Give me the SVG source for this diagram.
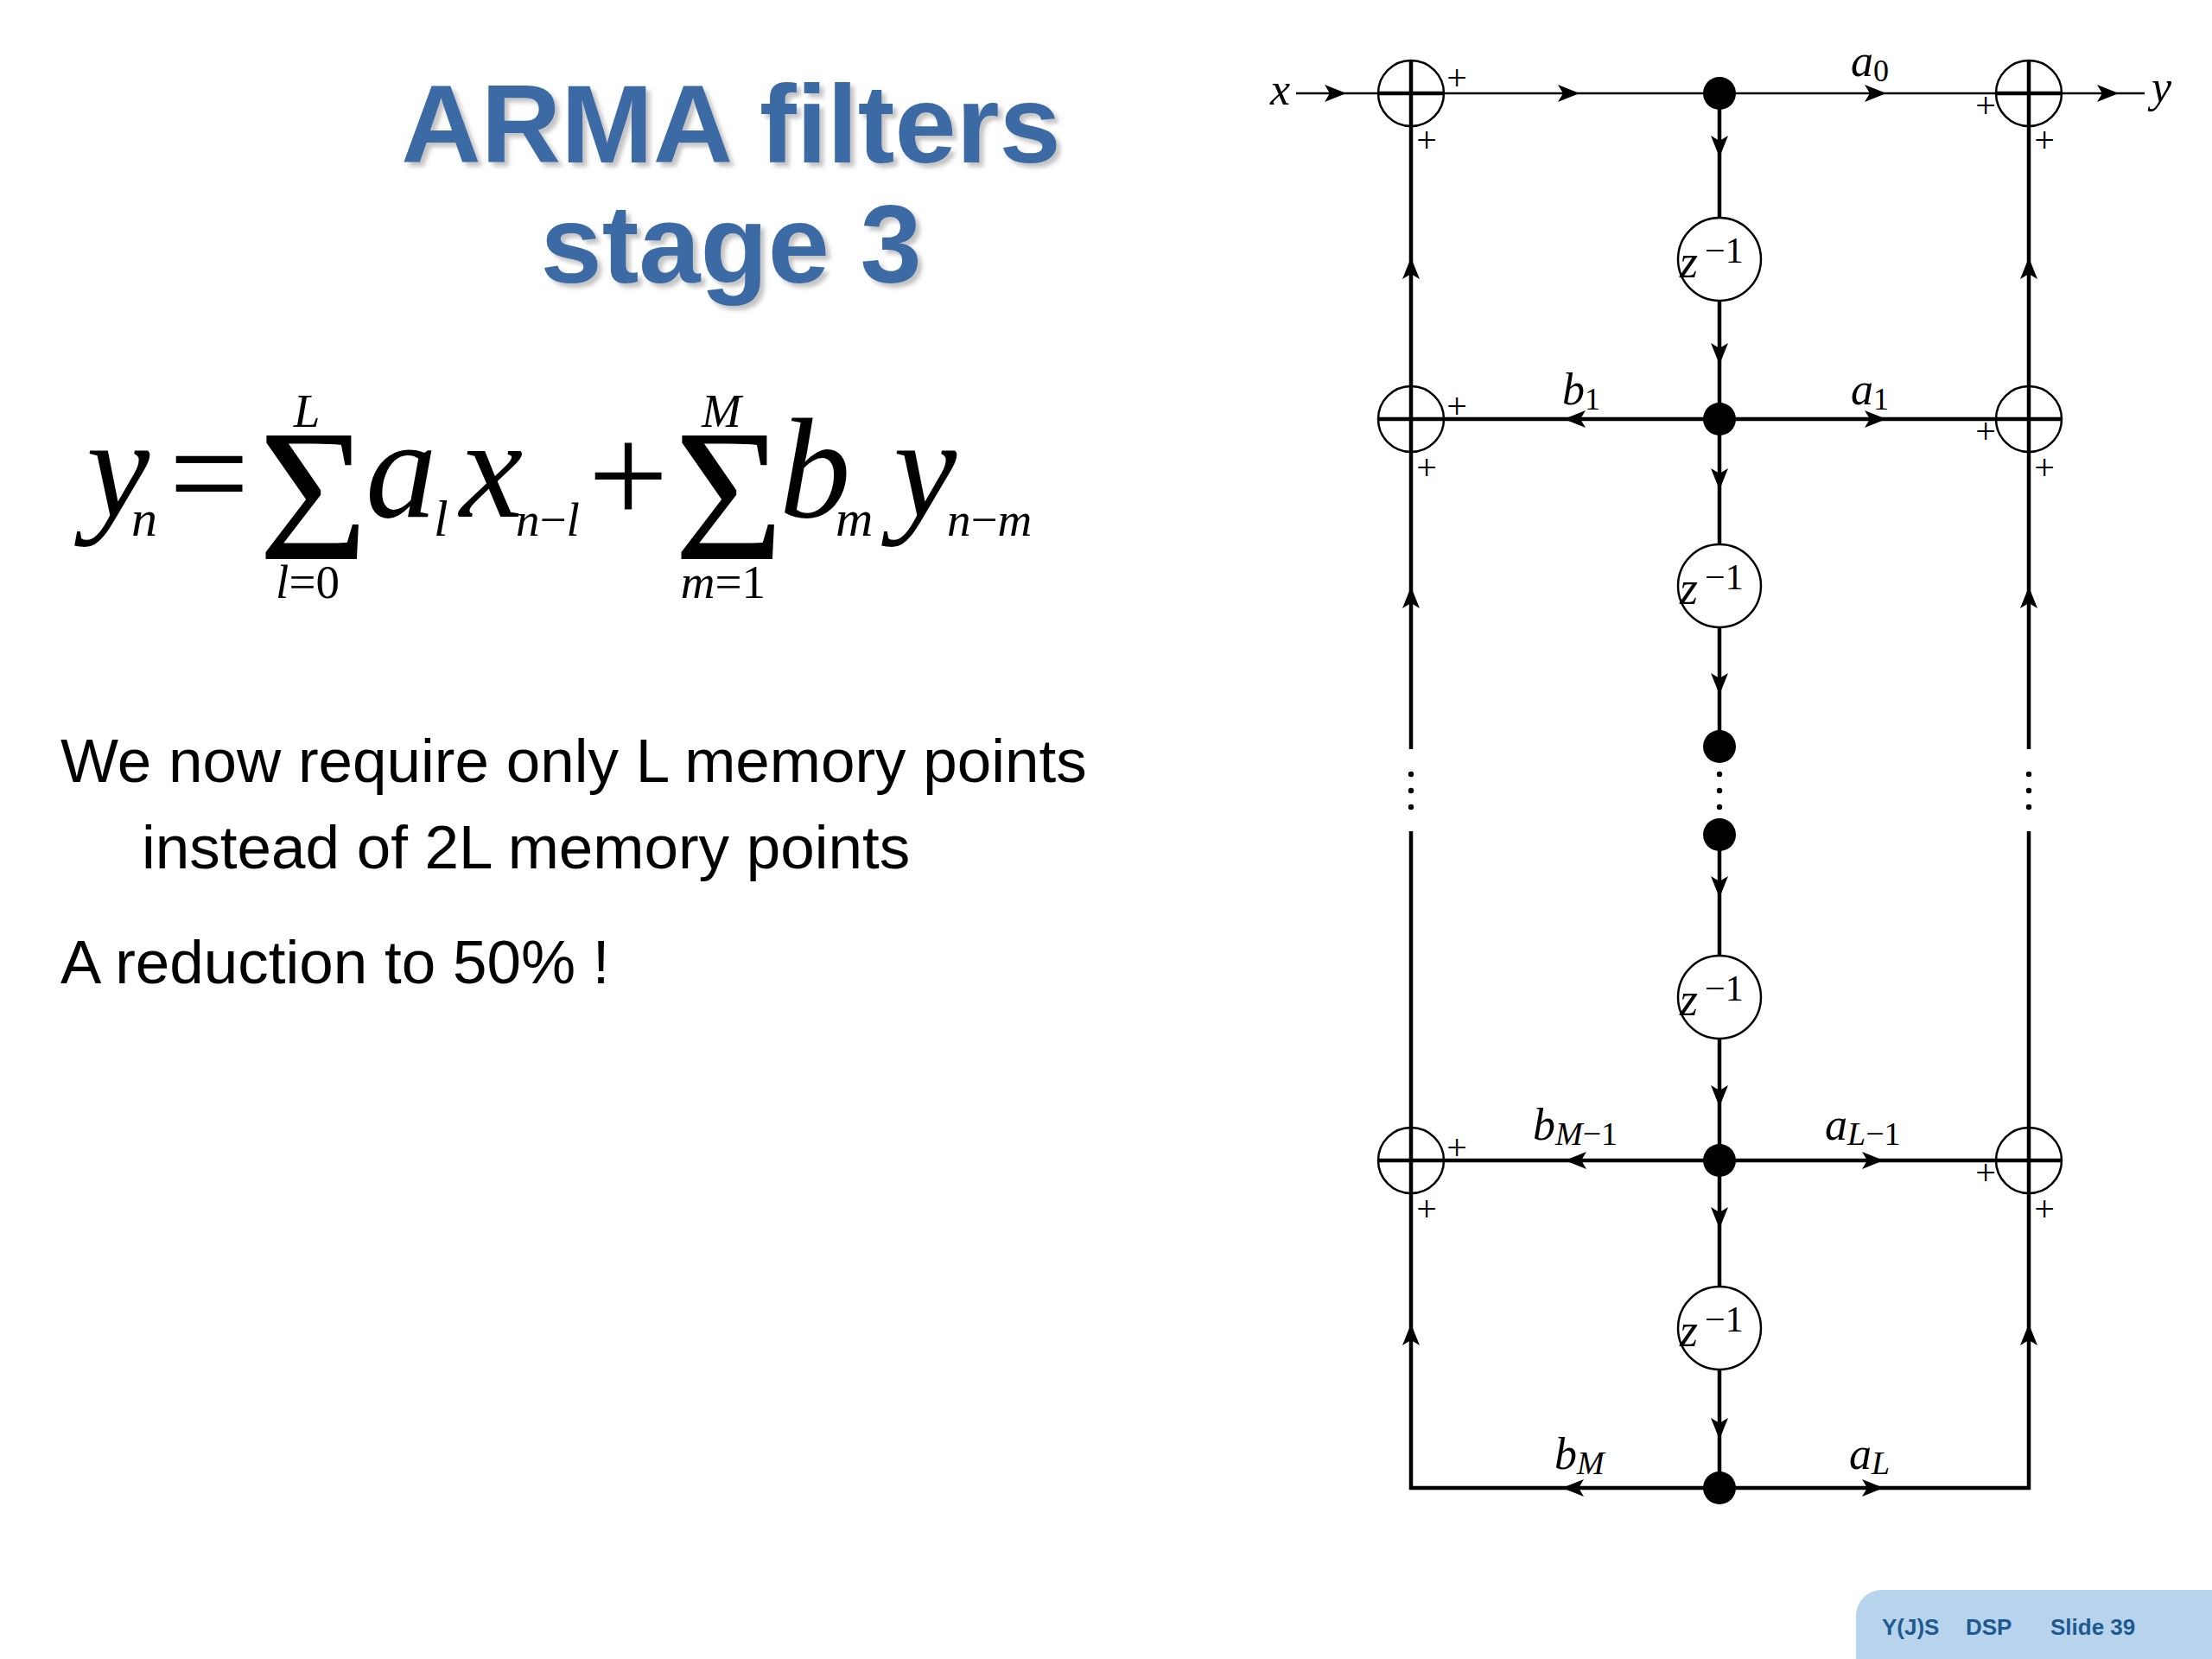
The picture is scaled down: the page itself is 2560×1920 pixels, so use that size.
<svg xmlns="http://www.w3.org/2000/svg" xmlns:xlink="http://www.w3.org/1999/xlink" width="2560" height="1920" viewBox="0 0 2560 1920">
<style>
.ln{stroke:#000;stroke-width:4.5;fill:none}
.lt{stroke:#000;stroke-width:2.5;fill:none}
.ring{stroke:#000;stroke-width:2.5;fill:none}
.delay{stroke:#000;stroke-width:2.5;fill:#fff}
.lab{font-family:"Liberation Serif",serif;font-style:italic;fill:#000}
.up{font-family:"Liberation Serif",serif;font-style:normal;fill:#000}
.pl{font-family:"Liberation Serif",serif;font-size:42px;fill:#000;text-anchor:middle}
.eq{font-family:"Liberation Serif",serif;fill:#000}
.body{font-family:"Liberation Sans",Arial,sans-serif;font-size:71px;fill:#000}
.title{font-family:"Liberation Sans",Arial,sans-serif;font-weight:bold;font-size:128px;fill:#3a6ba5;text-anchor:middle}
.foot{font-family:"Liberation Sans",Arial,sans-serif;font-weight:bold;font-size:26px;fill:#1d5a91}
</style>
<defs>
<path id="ah" d="M0,0 L-25,-10 L-19,0 L-25,10 Z" fill="#000"/>
<filter id="sh" x="-10%" y="-10%" width="130%" height="140%">
<feDropShadow dx="5" dy="5" stdDeviation="2.5" flood-color="#888" flood-opacity="0.5"/>
</filter>
</defs>
<rect width="2560" height="1920" fill="#fff"/>

<!-- Title -->
<g id="title" filter="url(#sh)">
<text class="title" x="846" y="188">ARMA filters</text>
<text class="title" x="846" y="327">stage 3</text>
</g>

<!-- Equation -->
<g id="equation" class="eq">
<text x="100" y="598" font-size="165" font-style="italic">y</text>
<text x="152" y="620" font-size="60" font-style="italic">n</text>
<text x="242" y="603" font-size="165" text-anchor="middle">=</text>
<text transform="translate(299,647) scale(1.0,1)" font-size="218">Σ</text>
<text x="355" y="494" font-size="55" font-style="italic" text-anchor="middle">L</text>
<text x="356" y="692" font-size="55" text-anchor="middle"><tspan font-style="italic">l</tspan>=0</text>
<text x="423" y="598" font-size="165" font-style="italic">a</text>
<text x="502" y="620" font-size="60" font-style="italic">l</text>
<text x="532" y="598" font-size="165" font-style="italic">x</text>
<text x="597" y="620" font-size="55" font-style="italic">n<tspan font-style="normal">−</tspan>l</text>
<text x="727" y="606" font-size="165" text-anchor="middle">+</text>
<text transform="translate(780,647) scale(1.0,1)" font-size="218">Σ</text>
<text x="835" y="494" font-size="55" font-style="italic" text-anchor="middle">M</text>
<text x="837" y="692" font-size="55" text-anchor="middle"><tspan font-style="italic">m</tspan>=1</text>
<text x="902" y="598" font-size="165" font-style="italic">b</text>
<text x="967" y="620" font-size="60" font-style="italic">m</text>
<text x="1034" y="598" font-size="165" font-style="italic">y</text>
<text x="1096" y="620" font-size="55" font-style="italic">n<tspan font-style="normal">−</tspan>m</text>
</g>

<!-- Body text -->
<g id="body">
<text class="body" x="70" y="905">We now require only L memory points</text>
<text class="body" x="164" y="1005">instead of 2L memory points</text>
<text class="body" x="70" y="1138">A reduction to 50% !</text>
</g>

<!-- Connectors -->
<g id="connectors">
<line class="lt" x1="1500" y1="108" x2="2482" y2="108"/>
<line class="ln" x1="1596" y1="485" x2="2386" y2="485"/>
<line class="ln" x1="1596" y1="1343" x2="2386" y2="1343"/>
<line class="ln" x1="1631" y1="1722" x2="2350" y2="1722"/>
<line class="ln" x1="1633" y1="70" x2="1633" y2="867"/>
<line class="ln" x1="1633" y1="962" x2="1633" y2="1724"/>
<line class="ln" x1="2348" y1="70" x2="2348" y2="867"/>
<line class="ln" x1="2348" y1="962" x2="2348" y2="1724"/>
<line class="ln" x1="1990" y1="108" x2="1990" y2="864"/>
<line class="ln" x1="1990" y1="966" x2="1990" y2="1722"/>
<g fill="#000">
<circle cx="1633" cy="896" r="3.2"/><circle cx="1633" cy="915" r="3.2"/><circle cx="1633" cy="934" r="3.2"/>
<circle cx="1990" cy="896" r="3.2"/><circle cx="1990" cy="915" r="3.2"/><circle cx="1990" cy="934" r="3.2"/>
<circle cx="2348" cy="896" r="3.2"/><circle cx="2348" cy="915" r="3.2"/><circle cx="2348" cy="934" r="3.2"/>
</g>
<use xlink:href="#ah" transform="translate(1558,108)"/>
<use xlink:href="#ah" transform="translate(1828,108)"/>
<use xlink:href="#ah" transform="translate(2183,108)"/>
<use xlink:href="#ah" transform="translate(2452,108)"/>
<use xlink:href="#ah" transform="translate(1810,485) rotate(180)"/>
<use xlink:href="#ah" transform="translate(2183,485)"/>
<use xlink:href="#ah" transform="translate(1811,1343) rotate(180)"/>
<use xlink:href="#ah" transform="translate(2180,1343)"/>
<use xlink:href="#ah" transform="translate(1808,1722) rotate(180)"/>
<use xlink:href="#ah" transform="translate(2180,1722)"/>
<use xlink:href="#ah" transform="translate(1990,182) rotate(90)"/>
<use xlink:href="#ah" transform="translate(1990,422) rotate(90)"/>
<use xlink:href="#ah" transform="translate(1990,567) rotate(90)"/>
<use xlink:href="#ah" transform="translate(1990,804) rotate(90)"/>
<use xlink:href="#ah" transform="translate(1990,1039) rotate(90)"/>
<use xlink:href="#ah" transform="translate(1990,1281) rotate(90)"/>
<use xlink:href="#ah" transform="translate(1990,1422) rotate(90)"/>
<use xlink:href="#ah" transform="translate(1990,1666) rotate(90)"/>
<use xlink:href="#ah" transform="translate(1633,298) rotate(-90)"/>
<use xlink:href="#ah" transform="translate(1633,679) rotate(-90)"/>
<use xlink:href="#ah" transform="translate(1633,1532) rotate(-90)"/>
<use xlink:href="#ah" transform="translate(2348,298) rotate(-90)"/>
<use xlink:href="#ah" transform="translate(2348,679) rotate(-90)"/>
<use xlink:href="#ah" transform="translate(2348,1532) rotate(-90)"/>
<text class="lab" x="2142" y="88" font-size="52">a<tspan class="up" font-size="36" dy="6">0</tspan></text>
<text class="lab" x="1808" y="468" font-size="52">b<tspan class="up" font-size="36" dy="6">1</tspan></text>
<text class="lab" x="2142" y="468" font-size="52">a<tspan class="up" font-size="36" dy="6">1</tspan></text>
<text class="lab" x="1774" y="1319" font-size="52">b<tspan font-size="38" dy="6">M<tspan class="up">−1</tspan></tspan></text>
<text class="lab" x="2112" y="1319" font-size="52">a<tspan font-size="38" dy="6">L<tspan class="up">−1</tspan></tspan></text>
<text class="lab" x="1799" y="1700" font-size="52">b<tspan font-size="38" dy="6">M</tspan></text>
<text class="lab" x="2140" y="1700" font-size="52">a<tspan font-size="38" dy="6">L</tspan></text>
</g>

<g id="in-x"><text class="lab" x="1470" y="121" font-size="52">x</text></g>
<g id="out-y"><text class="lab" x="2490" y="118" font-size="52">y</text></g>

<g id="adder-left-0">
<circle class="ring" cx="1633" cy="108" r="38"/>
<line class="ln" x1="1595" y1="108" x2="1671" y2="108"/>
<text class="pl" x="1686" y="104">+</text><text class="pl" x="1651" y="176">+</text>
</g>
<g id="adder-left-1">
<circle class="ring" cx="1633" cy="485" r="38"/>
<text class="pl" x="1686" y="484">+</text><text class="pl" x="1651" y="555">+</text>
</g>
<g id="adder-left-M1">
<circle class="ring" cx="1633" cy="1343" r="38"/>
<text class="pl" x="1686" y="1342">+</text><text class="pl" x="1651" y="1413">+</text>
</g>
<g id="adder-right-0">
<circle class="ring" cx="2348" cy="108" r="38"/>
<line class="ln" x1="2310" y1="108" x2="2386" y2="108"/>
<text class="pl" x="2298" y="136">+</text><text class="pl" x="2366" y="176">+</text>
</g>
<g id="adder-right-1">
<circle class="ring" cx="2348" cy="485" r="38"/>
<text class="pl" x="2298" y="513">+</text><text class="pl" x="2366" y="555">+</text>
</g>
<g id="adder-right-L1">
<circle class="ring" cx="2348" cy="1343" r="38"/>
<text class="pl" x="2298" y="1371">+</text><text class="pl" x="2366" y="1413">+</text>
</g>

<g id="node-0"><circle cx="1990" cy="108" r="19" fill="#000"/></g>
<g id="node-1"><circle cx="1990" cy="485" r="19" fill="#000"/></g>
<g id="node-2"><circle cx="1990" cy="864" r="19" fill="#000"/></g>
<g id="node-3"><circle cx="1990" cy="966" r="19" fill="#000"/></g>
<g id="node-M1"><circle cx="1990" cy="1343" r="19" fill="#000"/></g>
<g id="node-M"><circle cx="1990" cy="1722" r="19" fill="#000"/></g>

<g id="delay-1">
<circle class="delay" cx="1990" cy="300" r="48"/>
<text class="lab" x="1944" y="321" font-size="54">z</text><text class="up" x="1973" y="304" font-size="42">−1</text>
</g>
<g id="delay-2">
<circle class="delay" cx="1990" cy="678" r="48"/>
<text class="lab" x="1944" y="699" font-size="54">z</text><text class="up" x="1973" y="682" font-size="42">−1</text>
</g>
<g id="delay-3">
<circle class="delay" cx="1990" cy="1154" r="48"/>
<text class="lab" x="1944" y="1175" font-size="54">z</text><text class="up" x="1973" y="1158" font-size="42">−1</text>
</g>
<g id="delay-4">
<circle class="delay" cx="1990" cy="1537" r="48"/>
<text class="lab" x="1944" y="1558" font-size="54">z</text><text class="up" x="1973" y="1541" font-size="42">−1</text>
</g>

<g id="footer">
<rect x="2148" y="1840" width="460" height="120" rx="30" fill="#b8d4ec"/>
<text class="foot" x="2178" y="1892">Y(J)S</text>
<text class="foot" x="2275" y="1892">DSP</text>
<text class="foot" x="2373" y="1892">Slide 39</text>
</g>
</svg>
